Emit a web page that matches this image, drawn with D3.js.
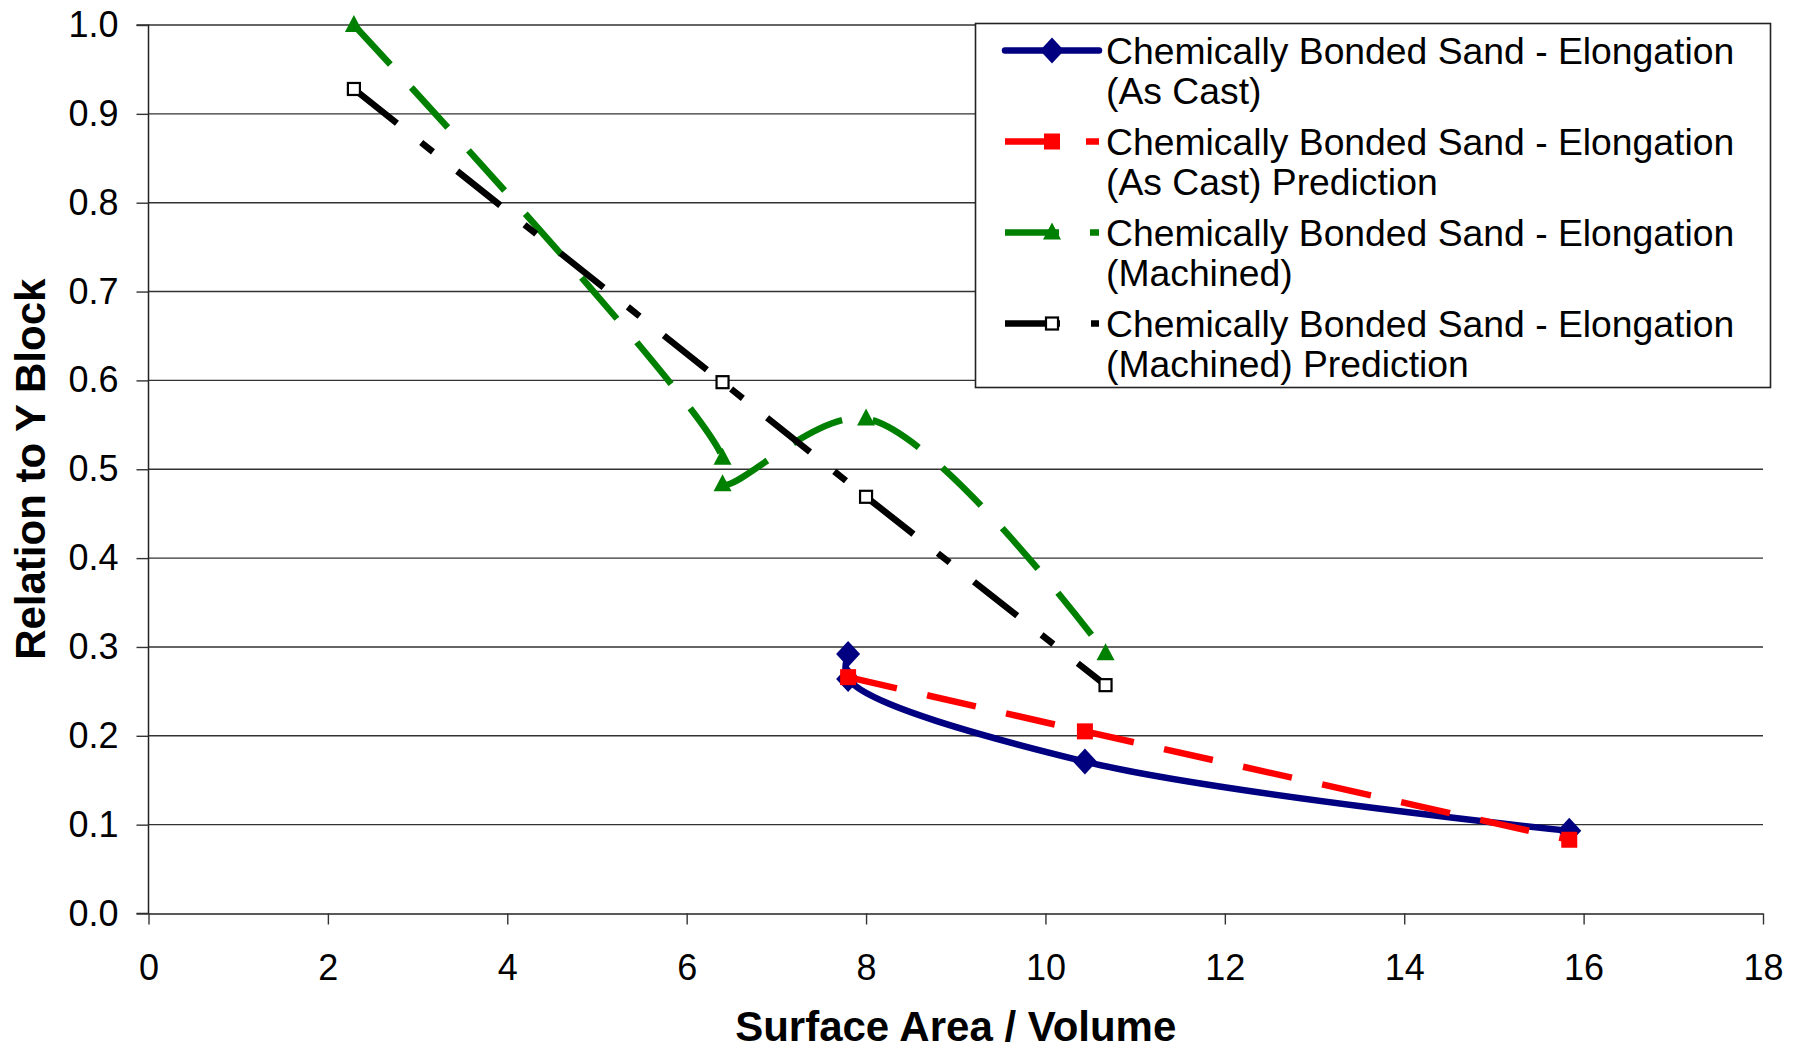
<!DOCTYPE html>
<html>
<head>
<meta charset="utf-8">
<script src="https://cdn.jsdelivr.net/npm/d3@7"></script>
<style>
  body { margin: 0; background: #fff; }
  svg { display: block; font-family: "Liberation Sans", Arial, sans-serif; }
</style>
</head>
<body>
<svg id="chart" width="1801" height="1050"></svg>
<script>

// values
var asCastX = [7.8, 7.8, 10.44, 15.84];
var asCastY = [0.292, 0.264, 0.171, 0.093];

var asCastPredX = [7.8, 10.44, 15.84];
var asCastPredY = [0.266, 0.205, 0.083];

var machinedX = [2.29, 6.4, 6.4, 8.0, 10.67];
var machinedY = [1.0, 0.513, 0.483, 0.557, 0.293];

var machinedPredX = [2.29, 6.4, 8.0, 10.67];
var machinedPredY = [0.928, 0.598, 0.469, 0.257];

var xTicks = [0, 2, 4, 6, 8, 10, 12, 14, 16, 18];
var yTicks = [0, 0.1, 0.2, 0.3, 0.4, 0.5, 0.6, 0.7, 0.8, 0.9, 1.0];

var seriesNames = [
	["Chemically Bonded Sand - Elongation", "(As Cast)"],
	["Chemically Bonded Sand - Elongation", "(As Cast) Prediction"],
	["Chemically Bonded Sand - Elongation", "(Machined)"],
	["Chemically Bonded Sand - Elongation", "(Machined) Prediction"]
];

var svg = d3.select("#chart");

var x = d3.scaleLinear().domain([0, 18]).range([148.5, 1763]);
var y = d3.scaleLinear().domain([0, 1]).range([913.5, 25]);

function zip(xs, ys) {
	return xs.map(function(v, i) { return [v, ys[i]]; });
}

// gridlines
svg.append("g")
	.selectAll("line")
	.data(yTicks.slice(1))
	.enter().append("line")
	.attr("x1", x(0))
	.attr("x2", x(18))
	.attr("y1", function(d) { return y(d); })
	.attr("y2", function(d) { return y(d); })
	.attr("stroke", "#333")
	.attr("stroke-width", 1.4);

// axes
var yAxis = d3.axisLeft(y)
	.tickValues(yTicks)
	.tickSize(12)
	.tickPadding(18)
	.tickFormat(d3.format(".1f"));

var xAxis = d3.axisBottom(x)
	.tickValues(xTicks)
	.tickSize(11)
	.tickPadding(30)
	.tickSizeOuter(0)
	.tickFormat(d3.format("d"));

var gy = svg.append("g").attr("transform", "translate(" + x(0) + ",0)").call(yAxis);
var gx = svg.append("g").attr("transform", "translate(0," + y(0) + ")").call(xAxis);

[gx, gy].forEach(function(g) {
	g.select(".domain").attr("stroke", "#222").attr("stroke-width", 1.5);
	g.selectAll(".tick line").attr("stroke", "#333").attr("stroke-width", 1.4);
	g.selectAll(".tick text")
		.attr("fill", "#000")
		.attr("font-size", 36)
		.attr("font-family", "Liberation Sans, Arial, sans-serif");
});
gy.select(".domain").attr("d", "M-12," + y(0) + "H0V" + y(1) + "H-12");

// axis titles
svg.append("text")
	.attr("x", (x(0) + x(18)) / 2)
	.attr("y", 1041)
	.attr("text-anchor", "middle")
	.attr("font-weight", "bold")
	.attr("font-size", 42)
	.text("Surface Area / Volume");

svg.append("text")
	.attr("transform", "translate(45," + ((y(0) + y(1)) / 2) + ") rotate(-90)")
	.attr("text-anchor", "middle")
	.attr("font-weight", "bold")
	.attr("font-size", 42)
	.text("Relation to Y Block");

// series
var smooth = d3.line()
	.x(function(d) { return x(d[0]); })
	.y(function(d) { return y(d[1]); })
	.curve(d3.curveCatmullRom.alpha(0.5));

var straight = d3.line()
	.x(function(d) { return x(d[0]); })
	.y(function(d) { return y(d[1]); });

var series = [
	{ pts: zip(asCastX, asCastY), line: smooth, color: "#000080", dash: null, marker: "diamond" },
	{ pts: zip(asCastPredX, asCastPredY), line: straight, color: "#ff0000", dash: "50,31", marker: "square" },
	{ pts: zip(machinedX, machinedY), line: smooth, color: "#008000", dash: "54,31", marker: "triangle" },
	{ pts: zip(machinedPredX, machinedPredY), line: straight, color: "#000000", dash: "55,31,15,31", marker: "hollow" }
];

function drawMarker(g, kind, color, px, py) {
	if (kind == "diamond") {
		g.append("path")
			.attr("d", "M" + px + "," + (py - 13) + "L" + (px + 12) + "," + py + "L" + px + "," + (py + 13) + "L" + (px - 12) + "," + py + "Z")
			.attr("fill", color);
	} else if (kind == "square") {
		g.append("rect")
			.attr("x", px - 8).attr("y", py - 8)
			.attr("width", 16).attr("height", 16)
			.attr("fill", color);
	} else if (kind == "triangle") {
		g.append("path")
			.attr("d", "M" + px + "," + (py - 10) + "L" + (px + 9) + "," + (py + 7) + "L" + (px - 9) + "," + (py + 7) + "Z")
			.attr("fill", color);
	} else {
		g.append("rect")
			.attr("x", px - 6).attr("y", py - 6)
			.attr("width", 12).attr("height", 12)
			.attr("fill", "#fff")
			.attr("stroke", color)
			.attr("stroke-width", 2.2);
	}
}

series.forEach(function(s) {
	var g = svg.append("g");
	g.append("path")
		.attr("d", s.line(s.pts))
		.attr("fill", "none")
		.attr("stroke", s.color)
		.attr("stroke-width", 6.5)
		.attr("stroke-linejoin", "round")
		.attr("stroke-dasharray", s.dash);
	s.pts.forEach(function(p) {
		drawMarker(g, s.marker, s.color, x(p[0]), y(p[1]));
	});
});

// legend
var legend = svg.append("g");
legend.append("rect")
	.attr("x", 975.5).attr("y", 23.5)
	.attr("width", 795).attr("height", 364)
	.attr("fill", "#fff")
	.attr("stroke", "#222")
	.attr("stroke-width", 1.6);

series.forEach(function(s, i) {
	var ly = 50.5 + i * 91;
	legend.append("line")
		.attr("x1", 1005).attr("x2", 1099)
		.attr("y1", ly).attr("y2", ly)
		.attr("stroke", s.color)
		.attr("stroke-width", 6.5)
		.attr("stroke-linecap", s.dash ? "butt" : "round")
		.attr("stroke-dasharray", s.dash);
	drawMarker(legend, s.marker, s.color, 1052, ly);
	legend.append("text")
		.attr("x", 1106)
		.attr("y", ly)
		.attr("dy", "0.35em")
		.attr("font-size", 37.3)
		.text(seriesNames[i][0]);
	legend.append("text")
		.attr("x", 1106)
		.attr("y", ly + 40.5)
		.attr("dy", "0.35em")
		.attr("font-size", 37.3)
		.text(seriesNames[i][1]);
});

</script>
</body>
</html>
